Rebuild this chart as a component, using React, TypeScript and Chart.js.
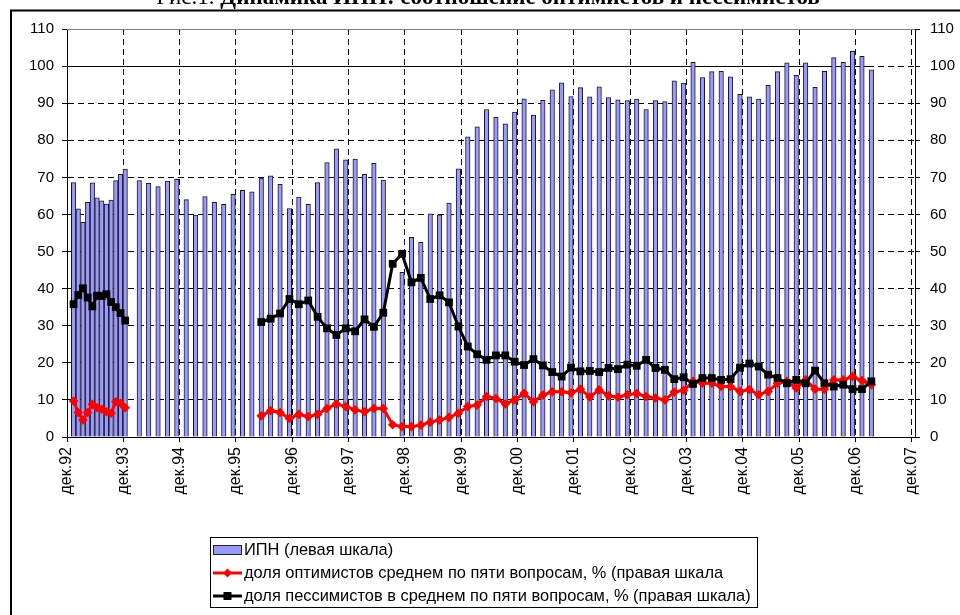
import React, { useEffect, useRef } from "react";
import { Chart, registerables } from "chart.js";

Chart.register(...registerables);

// ---------- data (months counted from Dec 1992 = 0) ----------
const yearTickMonths = [0, 12, 24, 36, 48, 60, 72, 84, 96, 108, 120, 132, 144, 156, 168, 180];
const yearTickLabels = [
  "дек.92", "дек.93", "дек.94", "дек.95", "дек.96", "дек.97", "дек.98", "дек.99",
  "дек.00", "дек.01", "дек.02", "дек.03", "дек.04", "дек.05", "дек.06", "дек.07",
];

const seriesNames = [
  "ИПН (левая шкала)",
  "доля оптимистов среднем по пяти вопросам, % (правая шкала",
  "доля пессимистов в среднем по пяти вопросам, % (правая шкала)",
];

// ИПН, monthly in 1993 (months 1..12)
const ipnMonthlyStart = 1;
const ipnMonthly = [68.6, 61.5, 57.9, 63.3, 68.5, 64.5, 63.7, 62.8, 63.9, 69.1, 70.8, 72.2];
// ИПН, every two months (months 15..67)
const ipnBimonthly1Start = 15;
const ipnBimonthly1 = [
  69.1, 68.4, 67.5, 69.0, 69.5, 64.0, 59.8, 64.8, 63.3, 62.7, 65.4, 66.5, 66.1, 69.8,
  70.4, 68.1, 61.6, 64.7, 62.7, 68.6, 74.0, 77.7, 74.7, 74.9, 70.8, 73.8, 69.3,
];
// ИПН, every two months (months 71..171)
const ipnBimonthly2Start = 71;
const ipnBimonthly2 = [
  44.4, 53.8, 52.5, 60.2, 59.9, 63.1, 72.3, 80.9, 83.6, 88.3, 86.2, 84.4, 87.6, 91.2,
  86.8, 90.8, 93.6, 95.5, 91.8, 94.2, 91.7, 94.4, 91.5, 90.9, 90.7, 91.1, 88.3, 90.7,
  90.4, 96.0, 95.4, 101.0, 96.9, 98.5, 98.6, 97.1, 92.4, 91.7, 91.1, 94.8, 98.5, 100.9,
  97.5, 100.9, 94.3, 98.6, 102.3, 101.0, 104.0, 102.6, 99.0,
];

// optimists / pessimists, monthly in 1993 (months 1..12)
const optMonthly = [9.7, 6.6, 4.6, 6.6, 8.8, 7.9, 7.5, 6.8, 6.4, 9.5, 9.1, 7.9];
const pesMonthly = [35.8, 38.3, 40.1, 37.6, 35.2, 38.1, 38.0, 38.5, 36.4, 35.0, 33.4, 31.4];
// every two months, months 41..171
const linesBimonthlyStart = 41;
const optBimonthly = [
  5.7, 7.1, 6.6, 5.0, 6.1, 5.5, 6.1, 7.7, 8.9, 8.2, 7.3, 6.8, 7.7, 7.7,
  3.3, 2.8,
  2.8, 3.2, 4.0, 4.6, 5.3, 6.4, 8.2, 8.6, 10.9, 10.4, 8.9, 10.0, 11.8, 9.5, 11.3, 12.2, 12.2, 11.9, 12.9,
  10.8, 12.7, 11.1, 10.7, 11.4, 11.7, 10.9, 10.5, 10.0, 12.1, 12.6, 15.0, 14.5, 14.5, 13.6, 13.6, 12.3, 12.8,
  11.4, 12.3, 14.5, 15.0, 13.2, 15.4, 12.9, 12.9, 15.4, 15.4, 16.3, 15.2, 14.1,
];
const pesBimonthly = [
  31.0, 31.9, 33.3, 37.2, 35.8, 36.8, 32.4, 29.3, 27.5, 29.3, 28.5, 31.7, 29.7, 33.5,
  46.7, 49.4,
  41.7, 42.9, 37.2, 38.2, 36.3, 29.8, 24.4, 22.3, 20.8, 22.0, 22.0, 20.3, 19.4, 21.0, 19.3, 17.5, 16.3, 18.7, 17.7,
  17.8, 17.5, 18.6, 18.3, 19.5, 19.2, 20.8, 18.6, 18.1, 15.6, 16.1, 14.3, 15.9, 15.9, 15.4, 15.6, 18.7, 19.8,
  19.0, 16.8, 15.9, 14.5, 15.4, 14.5, 17.9, 14.5, 13.6, 14.1, 12.9, 12.9, 15.0,
];
const referenceLevel = 100;

// ---------- helpers ----------
const IN_MONTH = 0.4; // position of a survey inside its month
function pts(start: number, step: number, values: (number | null)[]) {
  return values.map((v, k) => ({ x: start + k * step + IN_MONTH, y: v }));
}

const ipnData = [
  ...pts(ipnMonthlyStart, 1, ipnMonthly),
  ...pts(ipnBimonthly1Start, 2, ipnBimonthly1),
  ...pts(ipnBimonthly2Start, 2, ipnBimonthly2),
];
const gapPoint = { x: ipnMonthlyStart + ipnMonthly.length + IN_MONTH, y: null };
const optData = [...pts(ipnMonthlyStart, 1, optMonthly), gapPoint, ...pts(linesBimonthlyStart, 2, optBimonthly)];
const pesData = [...pts(ipnMonthlyStart, 1, pesMonthly), gapPoint, ...pts(linesBimonthlyStart, 2, pesBimonthly)];

const SANS = '"Liberation Sans", Arial, sans-serif';
const SERIF = '"Liberation Serif", "Times New Roman", serif';
const BAR_FILL = "#9999FF";

const decorPlugin = {
  id: "decor",
  beforeDraw(chart: any) {
    const ctx = chart.ctx;
    ctx.save();
    ctx.fillStyle = "#fff";
    ctx.fillRect(0, 0, chart.width, chart.height);
    ctx.restore();
  },
  beforeDatasetsDraw(chart: any) {
    const { ctx, chartArea } = chart;
    const ys = chart.scales.y;
    const xs = chart.scales.x;
    ctx.save();
    // plot area top edge
    ctx.strokeStyle = "#808080";
    ctx.lineWidth = 1;
    ctx.beginPath();
    ctx.moveTo(chartArea.left, Math.round(chartArea.top) + 0.5);
    ctx.lineTo(chartArea.right, Math.round(chartArea.top) + 0.5);
    ctx.stroke();
    // solid reference line at 100
    const yy = Math.round(ys.getPixelForValue(referenceLevel)) + 0.5;
    const last = ipnData[ipnData.length - 1].x;
    ctx.strokeStyle = "#000";
    ctx.beginPath();
    ctx.moveTo(chartArea.left, yy);
    ctx.lineTo(xs.getPixelForValue(last) + 2, yy);
    ctx.stroke();
    ctx.restore();
  },
  afterDraw(chart: any) {
    const ctx = chart.ctx;
    ctx.save();
    // outer frame
    ctx.strokeStyle = "#000";
    ctx.lineWidth = 2;
    ctx.beginPath();
    ctx.moveTo(11, chart.height + 2);
    ctx.lineTo(11, 10.5);
    ctx.lineTo(chart.width + 2, 10.5);
    ctx.stroke();

    // title (cut at the top)
    const t1 = "Рис.1. ";
    const t2 = "Динамика ИПН: соотношение оптимистов и пессимистов";
    const fs = 23;
    ctx.fillStyle = "#000";
    ctx.textBaseline = "alphabetic";
    ctx.font = `${fs}px ${SERIF}`;
    const w1 = ctx.measureText(t1).width;
    ctx.font = `bold ${fs}px ${SERIF}`;
    const w2 = ctx.measureText(t2).width;
    const sx = 488 - (w1 + w2) / 2;
    ctx.font = `${fs}px ${SERIF}`;
    ctx.fillText(t1, sx, 4);
    ctx.font = `bold ${fs}px ${SERIF}`;
    ctx.fillText(t2, sx + w1, 4);

    // legend
    const bx = 210.5, by = 537.5, bw = 547, bh = 70;
    ctx.lineWidth = 1;
    ctx.strokeStyle = "#000";
    ctx.strokeRect(bx, by, bw, bh);
    const rows = [550, 573, 596];
    const sx0 = 213, sx1 = 242, tx = 244;
    // bar swatch
    ctx.fillStyle = BAR_FILL;
    ctx.fillRect(sx0 + 1, rows[0] - 4, sx1 - sx0 - 2, 8);
    ctx.strokeStyle = "#222";
    ctx.strokeRect(sx0 + 0.5, rows[0] - 4.5, sx1 - sx0 - 1, 9);
    // red line + diamond
    ctx.strokeStyle = "#FF0000";
    ctx.fillStyle = "#FF0000";
    ctx.lineWidth = 3;
    ctx.beginPath();
    ctx.moveTo(sx0, rows[1]);
    ctx.lineTo(sx1, rows[1]);
    ctx.stroke();
    const cx = (sx0 + sx1) / 2;
    ctx.beginPath();
    ctx.moveTo(cx, rows[1] - 4.5);
    ctx.lineTo(cx + 4.5, rows[1]);
    ctx.lineTo(cx, rows[1] + 4.5);
    ctx.lineTo(cx - 4.5, rows[1]);
    ctx.closePath();
    ctx.fill();
    // black line + square
    ctx.strokeStyle = "#000";
    ctx.fillStyle = "#000";
    ctx.beginPath();
    ctx.moveTo(sx0, rows[2]);
    ctx.lineTo(sx1, rows[2]);
    ctx.stroke();
    ctx.fillRect(cx - 4, rows[2] - 4, 8, 8);
    // texts
    ctx.fillStyle = "#000";
    ctx.font = `16.4px ${SANS}`;
    ctx.textBaseline = "middle";
    ctx.textAlign = "left";
    seriesNames.forEach((n, i) => ctx.fillText(n, tx, rows[i]));
    ctx.restore();
  },
};

export default function App() {
  const ref = useRef<HTMLCanvasElement | null>(null);
  useEffect(() => {
    if (!ref.current) return;
    const tickFont = { family: SANS, size: 15 };
    const xTickFont = { family: SANS, size: 16 };
    const chart = new Chart(ref.current, {
      type: "bar",
      data: {
        datasets: [
          {
            type: "line",
            label: seriesNames[2],
            data: pesData as any,
            yAxisID: "y1",
            borderColor: "#000",
            backgroundColor: "#000",
            borderWidth: 3,
            pointStyle: "rect",
            pointRadius: 5.5,
            pointBorderWidth: 0,
            spanGaps: false,
            tension: 0,
            order: 0,
          },
          {
            type: "line",
            label: seriesNames[1],
            data: optData as any,
            yAxisID: "y1",
            borderColor: "#FF0000",
            backgroundColor: "#FF0000",
            borderWidth: 3,
            pointStyle: "rectRot",
            pointRadius: 4.8,
            pointBorderWidth: 0,
            spanGaps: false,
            tension: 0,
            order: 1,
          },
          {
            type: "bar",
            label: seriesNames[0],
            data: ipnData as any,
            yAxisID: "y",
            backgroundColor: BAR_FILL,
            borderColor: "#1a1a1a",
            borderWidth: 1,
            barThickness: 4.5,
            order: 2,
          },
        ],
      },
      options: {
        responsive: false,
        animation: false,
        events: [],
        layout: { padding: { top: 29, left: 0, right: 0, bottom: 0 } },
        plugins: {
          legend: { display: false },
          title: { display: false },
          tooltip: { enabled: false },
        },
        scales: {
          x: {
            type: "linear",
            position: "bottom",
            offset: false,
            min: yearTickMonths[0],
            max: yearTickMonths[yearTickMonths.length - 1] + 0.7,
            afterBuildTicks: (s: any) => {
              s.ticks = yearTickMonths.map((v) => ({ value: v }));
            },
            afterFit: (s: any) => {
              s.height = 178;
            },
            ticks: {
              autoSkip: false,
              minRotation: 90,
              maxRotation: 90,
              padding: 5,
              color: "#000",
              font: xTickFont,
              callback: (_v: any, i: number) => yearTickLabels[i],
            },
            grid: {
              offset: false,
              color: (c: any) => (c.tick && c.tick.value === 0 ? "rgba(0,0,0,0)" : "#000"),
              tickColor: "#000",
              tickLength: 5,
              lineWidth: 1,
            },
            border: { color: "#000", width: 1, dash: [6, 4] },
          },
          y: {
            position: "left",
            min: 0,
            max: 110,
            ticks: { stepSize: 10, color: "#000", font: tickFont, padding: 8 },
            grid: {
              color: (c: any) =>
                c.tick && (c.tick.value === 0 || c.tick.value === 110) ? "rgba(0,0,0,0)" : "#000",
              tickColor: "#000",
              tickLength: 5,
            },
            border: { color: "#000", width: 1, dash: [6, 4] },
            afterFit: (s: any) => {
              s.width = 67;
            },
          },
          y1: {
            position: "right",
            min: 0,
            max: 110,
            ticks: { stepSize: 10, color: "#000", font: tickFont, padding: 10 },
            grid: { drawOnChartArea: false, tickColor: "#000", tickLength: 5 },
            border: { color: "#000", width: 1 },
            afterFit: (s: any) => {
              s.width = 45;
            },
          },
        },
      } as any,
      plugins: [decorPlugin],
    });
    return () => chart.destroy();
  }, []);
  return (
    <canvas
      ref={ref}
      width={960}
      height={615}
      style={{ position: "fixed", left: 0, top: 0, display: "block" }}
    />
  );
}
